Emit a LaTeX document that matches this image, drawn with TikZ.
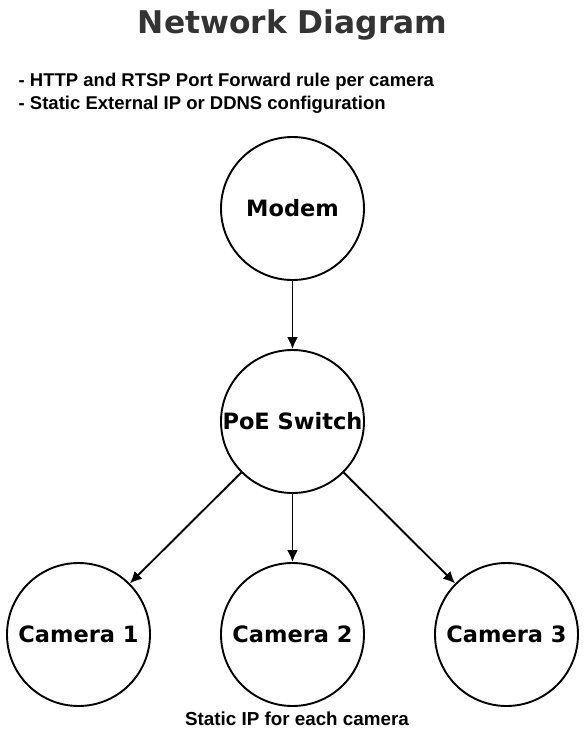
\documentclass[tikz,border=0pt]{standalone}
\usepackage{fontspec}
\setmainfont{DejaVu Sans}
\newfontfamily\arialfont{Liberation Sans}
\usetikzlibrary{arrows.meta}
\definecolor{titlegray}{HTML}{333333}
\tikzset{
  devnode/.style={circle, draw=black, line width=1.9pt, minimum size=143pt, inner sep=0pt, font=\fontsize{22.5}{27}\selectfont\bfseries},
  link/.style={line width=1.9pt, -{Latex[length=12pt,width=11pt]}},
  notetext/.style={inner sep=0pt, font=\arialfont\fontsize{18.5}{22}\selectfont\bfseries}
}
\begin{document}
\begin{tikzpicture}[x=1pt,y=-1pt]
\useasboundingbox (0,0) rectangle (586,753);
\fill[white] (0,0) rectangle (586,753);
\node[anchor=base, inner sep=0pt, text=titlegray, font=\fontsize{31.3}{37}\selectfont\bfseries] (title) at (292.5,33.5) {Network Diagram};
\node[notetext, anchor=base west] (note1) at (18.5,86) {- HTTP and RTSP Port Forward rule per camera};
\node[notetext, anchor=base west] (note2) at (18.5,109.3) {- Static External IP or DDNS configuration};
\node[devnode] (modem) at (292.5,208.5) {Modem};
\node[devnode] (switch) at (292.5,421.5) {PoE Switch};
\node[devnode] (cam1) at (78.5,634.5) {Camera 1};
\node[devnode] (cam2) at (292.5,634.5) {Camera 2};
\node[devnode] (cam3) at (506.5,634.5) {Camera 3};
\node[notetext, anchor=base, font=\arialfont\fontsize{18.8}{22}\selectfont\bfseries] (camnote) at (297,725) {Static IP for each camera};
\draw[link] (modem) -- (switch);
\draw[link] (switch) -- (cam1);
\draw[link] (switch) -- (cam2);
\draw[link] (switch) -- (cam3);
\end{tikzpicture}
\end{document}
